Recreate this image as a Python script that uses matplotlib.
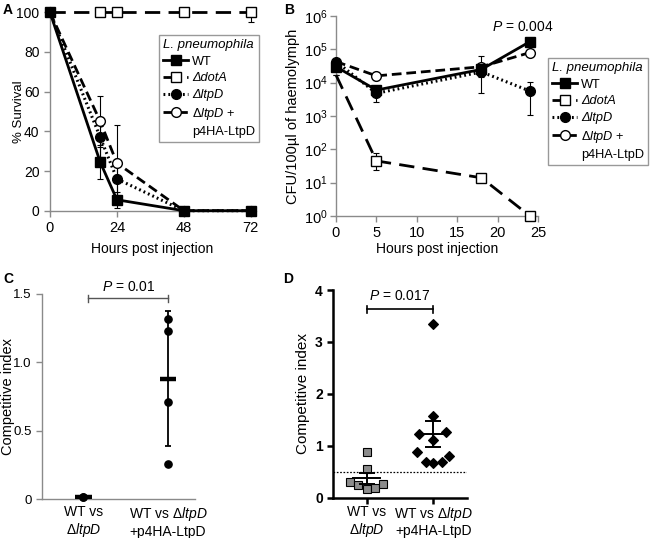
import matplotlib
matplotlib.use('Agg')
import matplotlib.pyplot as plt
import numpy as np
from matplotlib.lines import Line2D

plt.rcParams['font.family'] = ['Liberation Sans', 'DejaVu Sans']
plt.rcParams['mathtext.fontset'] = 'custom'
plt.rcParams['mathtext.rm'] = 'Liberation Sans'
plt.rcParams['mathtext.it'] = 'Liberation Sans:italic'
plt.rcParams['mathtext.bf'] = 'Liberation Sans:bold'
plt.rcParams['lines.scale_dashes'] = False

# ---------------- data ----------------
# Panel A: survival
hours_a = [0, 18, 24, 48, 72]
surv_wt = [100, 24.5, 5.5, 0, 0]
surv_wt_err = [0, 8.5, 4, 0, 0]
surv_dota = [100, 100, 100, 100, 100]
surv_dota_err_lo = [0, 0, 0, 0, 5]
surv_ltpd = [100, 37, 16, 0, 0]
surv_ltpd_err = [0, 10, 9, 0, 0]
surv_comp = [100, 45, 24, 0, 0]
surv_comp_err = [0, 13, 19, 0, 0]

# Panel B: CFU
hours_b = [0, 5, 18, 24]
cfu_wt = [3.0e4, 6.0e3, 2.5e4, 1.7e5]
cfu_wt_lo = [3.0e4, 6.0e3, 1.5e4, 1.7e5]
cfu_wt_hi = [3.0e4, 6.0e3, 6.5e4, 1.7e5]
cfu_dota = [1.7e4, 45, 14, 1]
cfu_dota_lo = [1.7e4, 24, 13, 1]
cfu_dota_hi = [1.7e4, 78, 15, 1]
cfu_ltpd = [4.3e4, 4.8e3, 2.1e4, 5.6e3]
cfu_ltpd_lo = [4.3e4, 2.6e3, 5.0e3, 1.07e3]
cfu_ltpd_hi = [4.3e4, 6.0e3, 3.0e4, 1.07e4]
cfu_comp = [4.3e4, 1.6e4, 3.0e4, 8.0e4]
cfu_comp_lo = [4.3e4, 1.2e4, 3.0e4, 8.0e4]
cfu_comp_hi = [4.3e4, 2.1e4, 3.0e4, 8.0e4]

# Panel C: competitive index
ci_c_wt = [0.02, 0.015]
ci_c_comp = [1.32, 1.23, 0.71, 0.26]

# Panel D: competitive index
ci_d_wt = [0.88, 0.56, 0.31, 0.24, 0.16, 0.19, 0.26]
ci_d_comp = [3.35, 1.57, 1.22, 1.26, 1.12, 0.88, 0.81, 0.69, 0.67, 0.69]

# scatter jitter (positions, not data)
jit_d_wt = [0, 0, -0.25, -0.125, 0, 0.125, 0.25]
jit_d_comp = [0, 0, -0.21, 0.19, 0, -0.24, 0.24, -0.11, 0, 0.125]

cat_labels = ['WT vs\n$\\mathit{ΔltpD}$', 'WT vs $\\mathit{ΔltpD}$\n+p4HA-LtpD']
legend_labels = ['WT', 'ΔdotA', 'ΔltpD', '$\\mathit{ΔltpD}$ +', 'p4HA-LtpD']

# ---------------- figure ----------------
W, H = 650, 538
fig = plt.figure(figsize=(W / 100, H / 100), dpi=100)


def px_axes(l, t, r, b):
    return fig.add_axes([l / W, 1 - b / H, (r - l) / W, (b - t) / H])


GRAY = '#8a8a8a'
styles = {
    'wt': dict(color='black', lw=2.0, ls='-', marker='s', ms=6.5, mfc='black', mec='black'),
    'dota': dict(color='black', lw=2.0, ls=(0, (11, 6)), marker='s', ms=6.5, mfc='white', mec='black', mew=1.0),
    'ltpd': dict(color='black', lw=2.2, ls=(0, (1.3, 2.2)), marker='o', ms=7, mfc='black', mec='black'),
    'comp': dict(color='black', lw=2.0, ls=(0, (7, 3.5)), marker='o', ms=7, mfc='white', mec='black', mew=1.0),
}
LINE_KEYS = ('color', 'lw', 'ls')


def style_gray_axes(ax, size=10):
    for s in ['top', 'right']:
        ax.spines[s].set_visible(False)
    for s in ['left', 'bottom']:
        ax.spines[s].set_color(GRAY)
        ax.spines[s].set_linewidth(1.0)
    ax.tick_params(colors=GRAY, labelcolor='black', labelsize=size, length=4, width=1, direction='out')


def make_legend(ax, anchor_px):
    handles = [Line2D([], [], **styles[k]) for k in ['wt', 'dota', 'ltpd', 'comp']]
    handles.append(Line2D([], [], ls='none'))
    leg = ax.legend(handles, legend_labels, loc='upper right',
                    bbox_to_anchor=(anchor_px[0] / W, 1 - anchor_px[1] / H),
                    bbox_transform=fig.transFigure, frameon=True, fancybox=False,
                    edgecolor='#999999', framealpha=1, fontsize=9.2,
                    title='L. pneumophila',
                    title_fontproperties={'style': 'italic', 'size': 9.5},
                    handlelength=2.0, handletextpad=0.3, labelspacing=0.37,
                    borderpad=0.3, borderaxespad=0, alignment='left')
    leg.get_frame().set_linewidth(1.0)
    texts = leg.get_texts()
    texts[1].set_fontstyle('italic')
    texts[2].set_fontstyle('italic')
    return leg


def plot_series(ax, x, vals, key, skip_first_marker=False):
    st = styles[key]
    ax.plot(x, vals, **{k: st[k] for k in LINE_KEYS}, clip_on=False, zorder=3)
    i0 = 1 if skip_first_marker else 0
    ax.plot(x[i0:], vals[i0:], ls='none', marker=st['marker'], ms=st['ms'], mfc=st['mfc'],
            mec=st['mec'], mew=st.get('mew', 1.0), clip_on=False, zorder=4)


# ---------- Panel A ----------
axA = px_axes(50, 12.3, 255, 210.7)
style_gray_axes(axA)
axA.tick_params(axis='x', labelsize=10.5)
axA.set_xlim(0, 73.5)
axA.set_ylim(0, 100)
order = [('dota', surv_dota, [surv_dota_err_lo, [0] * 5]),
         ('comp', surv_comp, [surv_comp_err, surv_comp_err]),
         ('ltpd', surv_ltpd, [surv_ltpd_err, surv_ltpd_err]),
         ('wt', surv_wt, [surv_wt_err, surv_wt_err])]
for key, vals, err in order:
    axA.errorbar(hours_a, vals, yerr=err, fmt='none', ecolor='black', elinewidth=0.8,
                 capsize=2, capthick=0.8, clip_on=False, zorder=2)
    plot_series(axA, hours_a, vals, key, skip_first_marker=(key == 'dota'))
axA.set_xticks([0, 24, 48, 72])
axA.set_yticks([0, 20, 40, 60, 80, 100])
axA.set_xlabel('Hours post injection', fontsize=10, labelpad=5)
axA.set_ylabel('% Survival', fontsize=9.5)
axA.yaxis.set_label_coords(-0.12, 0.5)
make_legend(axA, (259, 35))

# ---------- Panel B ----------
axB = px_axes(336, 16, 538, 216)
style_gray_axes(axB, size=10.5)
axB.set_yscale('log')
axB.set_xlim(0, 25)
axB.set_ylim(1, 1e6)
blist = [('dota', cfu_dota, cfu_dota_lo, cfu_dota_hi),
         ('comp', cfu_comp, cfu_comp_lo, cfu_comp_hi),
         ('ltpd', cfu_ltpd, cfu_ltpd_lo, cfu_ltpd_hi),
         ('wt', cfu_wt, cfu_wt_lo, cfu_wt_hi)]
for key, vals, lo, hi in blist:
    v = np.array(vals)
    err = [v - np.array(lo), np.array(hi) - v]
    axB.errorbar(hours_b, vals, yerr=err, fmt='none', ecolor='black', elinewidth=0.8,
                 capsize=2, capthick=0.8, clip_on=False, zorder=2)
    plot_series(axB, hours_b, vals, key, skip_first_marker=(key in ('dota', 'comp')))
axB.set_xticks([0, 5, 10, 15, 20, 25])
axB.set_yticks([10.0 ** k for k in range(7)])
axB.set_yticklabels(['$10^{%d}$' % k for k in range(7)])
axB.minorticks_off()
axB.tick_params(axis='y', labelsize=10.5, pad=2)
axB.set_xlabel('Hours post injection', fontsize=10, labelpad=1)
axB.set_ylabel('CFU/100µl of haemolymph', fontsize=10.5)
axB.yaxis.set_label_coords(-0.18, 0.5)
axB.text(23.1, 10 ** 5.67, '$\\mathit{P}$ = 0.004', ha='center', va='center', fontsize=10)
make_legend(axB, (648, 58))

# ---------- Panel C ----------
axC = px_axes(42.3, 294, 195, 499.3)
style_gray_axes(axC, size=9.5)
axC.set_xlim(0.516, 2.319)
axC.set_ylim(0, 1.5)
for xpos, vals in [(1, ci_c_wt), (2, ci_c_comp)]:
    v = np.array(vals)
    m, sd = v.mean(), v.std(ddof=1)
    axC.errorbar([xpos], [m], yerr=[sd], fmt='none', ecolor='black', elinewidth=1.3,
                 capsize=2, capthick=1.3, zorder=2)
    axC.plot([xpos - 0.1, xpos + 0.1], [m, m], color='black', lw=3.2, solid_capstyle='butt', zorder=3)
    axC.plot([xpos] * len(v), v, ls='none', marker='o', ms=5.2, color='black', zorder=4, clip_on=False)
axC.set_xticks([1, 2])
axC.set_xticklabels(cat_labels, fontsize=10, linespacing=1.15)
axC.tick_params(axis='x', length=0, pad=4)
axC.set_yticks([0, 0.5, 1.0, 1.5])
axC.set_yticklabels(['0', '0.5', '1.0', '1.5'])
axC.set_ylabel('Competitive index', fontsize=10.5)
axC.yaxis.set_label_coords(-0.18, 0.5)
axC.plot([1.06, 2.0], [1.47, 1.47], color='#555555', lw=1, clip_on=False)
for xx in [1.06, 2.0]:
    axC.plot([xx, xx], [1.445, 1.495], color='#555555', lw=1, clip_on=False)
axC.text(1.53, 1.55, '$\\mathit{P}$ = 0.01', ha='center', va='center', fontsize=10)

# ---------- Panel D ----------
axD = px_axes(333.3, 290, 466.7, 497.7)
for s in ['top', 'right']:
    axD.spines[s].set_visible(False)
for s in ['left', 'bottom']:
    axD.spines[s].set_color('black')
    axD.spines[s].set_linewidth(1.8)
axD.tick_params(colors='black', length=4, width=1.8, direction='out', labelsize=10)
axD.set_xlim(0.5, 2.5)
axD.set_ylim(0, 4)
axD.axhline(0.5, color='black', lw=0.9, ls=(0, (1.2, 1.2)), zorder=1)
for xpos, vals, jit, mk, fc, ms in [(1, ci_d_wt, jit_d_wt, 's', '#8c8c8c', 5.5),
                                    (2, ci_d_comp, jit_d_comp, 'D', 'black', 4.6)]:
    v = np.array(vals)
    xs = xpos + np.array(jit)
    axD.plot(xs, v, ls='none', marker=mk, ms=ms, mfc=fc, mec='black', mew=0.8, zorder=3)
    m = v.mean()
    sem = v.std(ddof=1) / np.sqrt(len(v))
    axD.errorbar([xpos], [m], yerr=[sem], fmt='none', ecolor='black', elinewidth=1.4,
                 capsize=6, capthick=1.4, zorder=4)
    axD.plot([xpos - 0.2, xpos + 0.2], [m, m], color='black', lw=1.4, zorder=4)
axD.set_xticks([1, 2])
axD.set_xticklabels(cat_labels, fontsize=10, linespacing=1.1)
axD.tick_params(axis='x', pad=1.5)
axD.set_yticks([0, 1, 2, 3, 4])
for lab in axD.get_yticklabels():
    lab.set_fontweight('bold')
axD.set_ylabel('Competitive index', fontsize=11)
axD.yaxis.set_label_coords(-0.175, 0.5)
axD.plot([1.0, 2.0], [3.63, 3.63], color='black', lw=1.2, clip_on=False)
for xx in [1.0, 2.0]:
    axD.plot([xx, xx], [3.56, 3.70], color='black', lw=1.2, clip_on=False)
axD.text(1.5, 3.88, '$\\mathit{P}$ = 0.017', ha='center', va='center', fontsize=10)

# panel letters
for lab, x, y in [('A', 3, 3), ('B', 284, 3), ('C', 3, 272), ('D', 283, 272)]:
    fig.text(x / W, 1 - y / H, lab, fontsize=10, fontweight='bold', ha='left', va='top')

fig.savefig('out.png', dpi=100)
